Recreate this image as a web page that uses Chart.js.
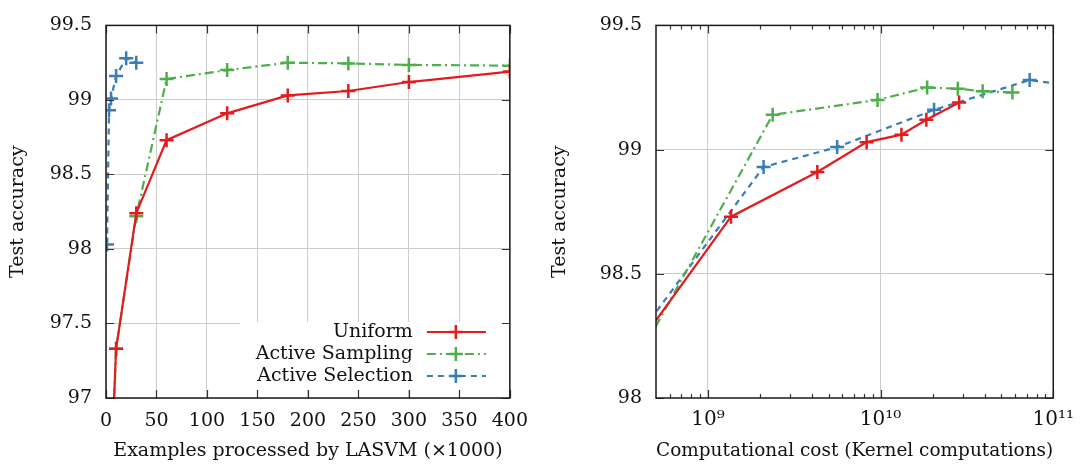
<!DOCTYPE html>
<html>
<head>
<meta charset="utf-8">
<title>LASVM test accuracy</title>
<script src="https://cdn.jsdelivr.net/npm/chart.js@4.4.1/dist/chart.umd.min.js"></script>
<style>
  html, body { margin: 0; padding: 0; background: #fff; }
  #wrap { position: relative; width: 1084px; height: 468px; overflow: hidden; }
  .panel { position: absolute; top: 0; height: 468px; }
  #left { left: 0; width: 540px; }
  #right { left: 542px; width: 542px; }
</style>
</head>
<body>
<div id="wrap">
  <div class="panel" id="left"><canvas id="examplesChart"></canvas></div>
  <div class="panel" id="right"><canvas id="costChart"></canvas></div>
</div>
<script>
// Examples processed (x1000) at each checkpoint
const examplesUniform   = [5, 10, 30, 60, 120, 180, 240, 300, 400];
const examplesSampling  = [5, 10, 30, 60, 120, 180, 240, 300, 400];
const examplesSelection = [1, 3, 5, 10, 20, 30];

// Test accuracy at those checkpoints
const accUniform   = [96.5, 97.33, 98.24, 98.73, 98.91, 99.03, 99.06, 99.12, 99.19];
const accSampling  = [96.5, 97.33, 98.22, 99.14, 99.20, 99.25, 99.245, 99.235, 99.23];
const accSelection = [98.03, 98.93, 99.01, 99.16, 99.28, 99.25];

// Kernel computations spent to reach the same checkpoints
const costUniform   = [8e7, 1.5e8, 4.2e8, 1.36e9, 4.3e9, 8.3e9, 1.32e10, 1.84e10, 2.85e10];
const costSampling  = [8e7, 1.5e8, 4.4e8, 2.37e9, 9.6e9, 1.86e10, 2.8e10, 3.9e10, 5.8e10];
const costSelection = [2.3e8, 2.1e9, 5.6e9, 2.04e10, 7.3e10, 1.5e11];

// Axis ticks
const examplesTicks = [0, 50, 100, 150, 200, 250, 300, 350, 400];
const accTicksLeft  = [97, 97.5, 98, 98.5, 99, 99.5];
const accTicksRight = [98, 98.5, 99, 99.5];
const costTicks      = [1e9, 1e10, 1e11];
const costTickLabels = ['10\u2079', '10\u00b9\u2070', '10\u00b9\u00b9'];
const costGridLines  = [1e9, 1e10];
const accGridRight   = [98.5, 99];

const FONT = '"DejaVu Serif", serif';
Chart.defaults.font.family = FONT;
Chart.defaults.font.size = 19;
Chart.defaults.color = '#111';

const seriesStyle = [
    { label: 'Uniform',          color: '#e41a1c', dash: [] },
    { label: 'Active Sampling',  color: '#4daf4a', dash: [9, 4, 2, 4] },
    { label: 'Active Selection', color: '#377eb8', dash: [6, 5] }
];

function toPoints(xs, ys) {
    return xs.map((x, i) => ({ x: x, y: ys[i] }));
}

function makeDatasets(xsList, ysList) {
    return seriesStyle.map((s, i) => ({
        label: s.label,
        data: toPoints(xsList[i], ysList[i]),
        showLine: true,
        borderColor: s.color,
        backgroundColor: s.color,
        borderWidth: 2.2,
        borderDash: s.dash,
        pointStyle: 'cross',
        pointRadius: 7,
        pointHoverRadius: 7,
        pointBorderWidth: 2.5,
        pointBorderColor: s.color
    }));
}

// Inward tick marks on all four sides plus the frame
const frameTicks = {
    id: 'frameTicks',
    afterDatasetsDraw(chart, args, opts) {
        const { ctx, chartArea: a } = chart;
        const xs = chart.scales.x, ys = chart.scales.y;
        ctx.save();
        ctx.strokeStyle = '#333';
        ctx.lineWidth = 1.2;
        ctx.beginPath();
        const mark = (x0, y0, x1, y1) => { ctx.moveTo(x0, y0); ctx.lineTo(x1, y1); };
        xs.ticks.forEach(t => {
            const px = Math.round(xs.getPixelForValue(t.value)) + 0.5;
            mark(px, a.bottom, px, a.bottom - 8);
            mark(px, a.top, px, a.top + 8);
        });
        ys.ticks.forEach(t => {
            const py = Math.round(ys.getPixelForValue(t.value)) + 0.5;
            mark(a.left, py, a.left + 8, py);
            mark(a.right, py, a.right - 8, py);
        });
        if (opts.logMinor) {
            const lo = Math.floor(Math.log10(xs.min));
            const hi = Math.ceil(Math.log10(xs.max));
            for (let e = lo; e < hi; e++) {
                for (let m = 2; m <= 9; m++) {
                    const v = m * Math.pow(10, e);
                    if (v <= xs.min || v >= xs.max) continue;
                    const px = Math.round(xs.getPixelForValue(v)) + 0.5;
                    mark(px, a.bottom, px, a.bottom - 4);
                    mark(px, a.top, px, a.top + 4);
                }
            }
        }
        ctx.stroke();
        ctx.lineWidth = 1.5;
        ctx.strokeStyle = '#1a1a1a';
        ctx.strokeRect(a.left, a.top, a.width, a.height);
        ctx.restore();
    }
};

// Key in the lower right corner, on an opaque background
const insetLegend = {
    id: 'insetLegend',
    afterDatasetsDraw(chart) {
        const { ctx, chartArea: a } = chart;
        ctx.save();
        ctx.fillStyle = '#fff';
        ctx.fillRect(a.right - 270, a.bottom - 76, 269, 68);
        ctx.font = '19px ' + FONT;
        ctx.textAlign = 'right';
        ctx.textBaseline = 'middle';
        chart.data.datasets.forEach((ds, i) => {
            const rowY = a.bottom - 66 + i * 22;
            ctx.fillStyle = '#111';
            ctx.fillText(ds.label, a.right - 97, rowY);
            ctx.strokeStyle = ds.borderColor;
            ctx.lineWidth = ds.borderWidth;
            ctx.setLineDash(ds.borderDash);
            ctx.beginPath();
            ctx.moveTo(a.right - 83, rowY);
            ctx.lineTo(a.right - 24, rowY);
            ctx.stroke();
            ctx.setLineDash([]);
            const cx = a.right - 54;
            ctx.lineWidth = ds.pointBorderWidth;
            ctx.beginPath();
            ctx.moveTo(cx - 7, rowY); ctx.lineTo(cx + 7, rowY);
            ctx.moveTo(cx, rowY - 7); ctx.lineTo(cx, rowY + 7);
            ctx.stroke();
        });
        ctx.restore();
    }
};

function fixedTicks(values) {
    return function(scale) {
        scale.ticks = values.map(v => ({ value: v }));
    };
}

const plainNumber = v => String(v);

function baseOptions(padRight) {
    return {
        responsive: true,
        maintainAspectRatio: false,
        animation: false,
        events: [],
        layout: { padding: { left: 0, right: padRight, top: 18, bottom: 0 } },
        plugins: {
            legend: { display: false },
            tooltip: { enabled: false }
        }
    };
}

// Left panel: accuracy against number of examples
const examplesOptions = baseOptions(29);
examplesOptions.plugins.frameTicks = { logMinor: false };
examplesOptions.scales = {
    x: {
        type: 'linear',
        min: 0, max: 400,
        afterBuildTicks: fixedTicks(examplesTicks),
        afterFit: s => { s.height = 70; },
        grid: { color: '#cccccc', lineWidth: 1, drawTicks: false },
        border: { display: false },
        ticks: { padding: 12, maxRotation: 0, color: '#111', callback: plainNumber },
        title: { display: true, text: 'Examples processed by LASVM (\u00d71000)', padding: { top: 0, bottom: 6 }, color: '#111' }
    },
    y: {
        type: 'linear',
        min: 97, max: 99.5,
        afterBuildTicks: fixedTicks(accTicksLeft),
        afterFit: s => { s.width = 106; },
        grid: { color: '#cccccc', lineWidth: 1, drawTicks: false },
        border: { display: false },
        ticks: { padding: 14, color: '#111', callback: plainNumber },
        title: { display: true, text: 'Test accuracy', padding: { top: 7, bottom: 0 }, color: '#111' }
    }
};

new Chart(document.getElementById('examplesChart'), {
    type: 'scatter',
    data: { datasets: makeDatasets(
        [examplesUniform, examplesSampling, examplesSelection],
        [accUniform, accSampling, accSelection]) },
    options: examplesOptions,
    plugins: [insetLegend, frameTicks]
});

// Right panel: accuracy against kernel computations (log scale)
const costOptions = baseOptions(23);
costOptions.plugins.frameTicks = { logMinor: true };
costOptions.scales = {
    x: {
        type: 'logarithmic',
        min: 5e8, max: 1e11,
        afterBuildTicks: fixedTicks(costTicks),
        afterFit: s => { s.height = 70; },
        grid: {
            drawTicks: false,
            lineWidth: 1,
            color: ctx => costGridLines.includes(ctx.tick && ctx.tick.value) ? '#cccccc' : 'rgba(0,0,0,0)'
        },
        border: { display: false },
        ticks: {
            padding: 10, maxRotation: 0, color: '#111',
            font: { size: 20 },
            callback: v => costTickLabels[costTicks.indexOf(v)]
        },
        title: { display: true, text: 'Computational cost (Kernel computations)', padding: { top: 0, bottom: 6 }, color: '#111' }
    },
    y: {
        type: 'linear',
        min: 98, max: 99.5,
        afterBuildTicks: fixedTicks(accTicksRight),
        afterFit: s => { s.width = 114; },
        grid: {
            drawTicks: false,
            lineWidth: 1,
            color: ctx => accGridRight.includes(ctx.tick && ctx.tick.value) ? '#cccccc' : 'rgba(0,0,0,0)'
        },
        border: { display: false },
        ticks: { padding: 14, color: '#111', callback: plainNumber },
        title: { display: true, text: 'Test accuracy', padding: { top: 7, bottom: 0 }, color: '#111' }
    }
};

new Chart(document.getElementById('costChart'), {
    type: 'scatter',
    data: { datasets: makeDatasets(
        [costUniform, costSampling, costSelection],
        [accUniform, accSampling, accSelection]) },
    options: costOptions,
    plugins: [frameTicks]
});
</script>
</body>
</html>
